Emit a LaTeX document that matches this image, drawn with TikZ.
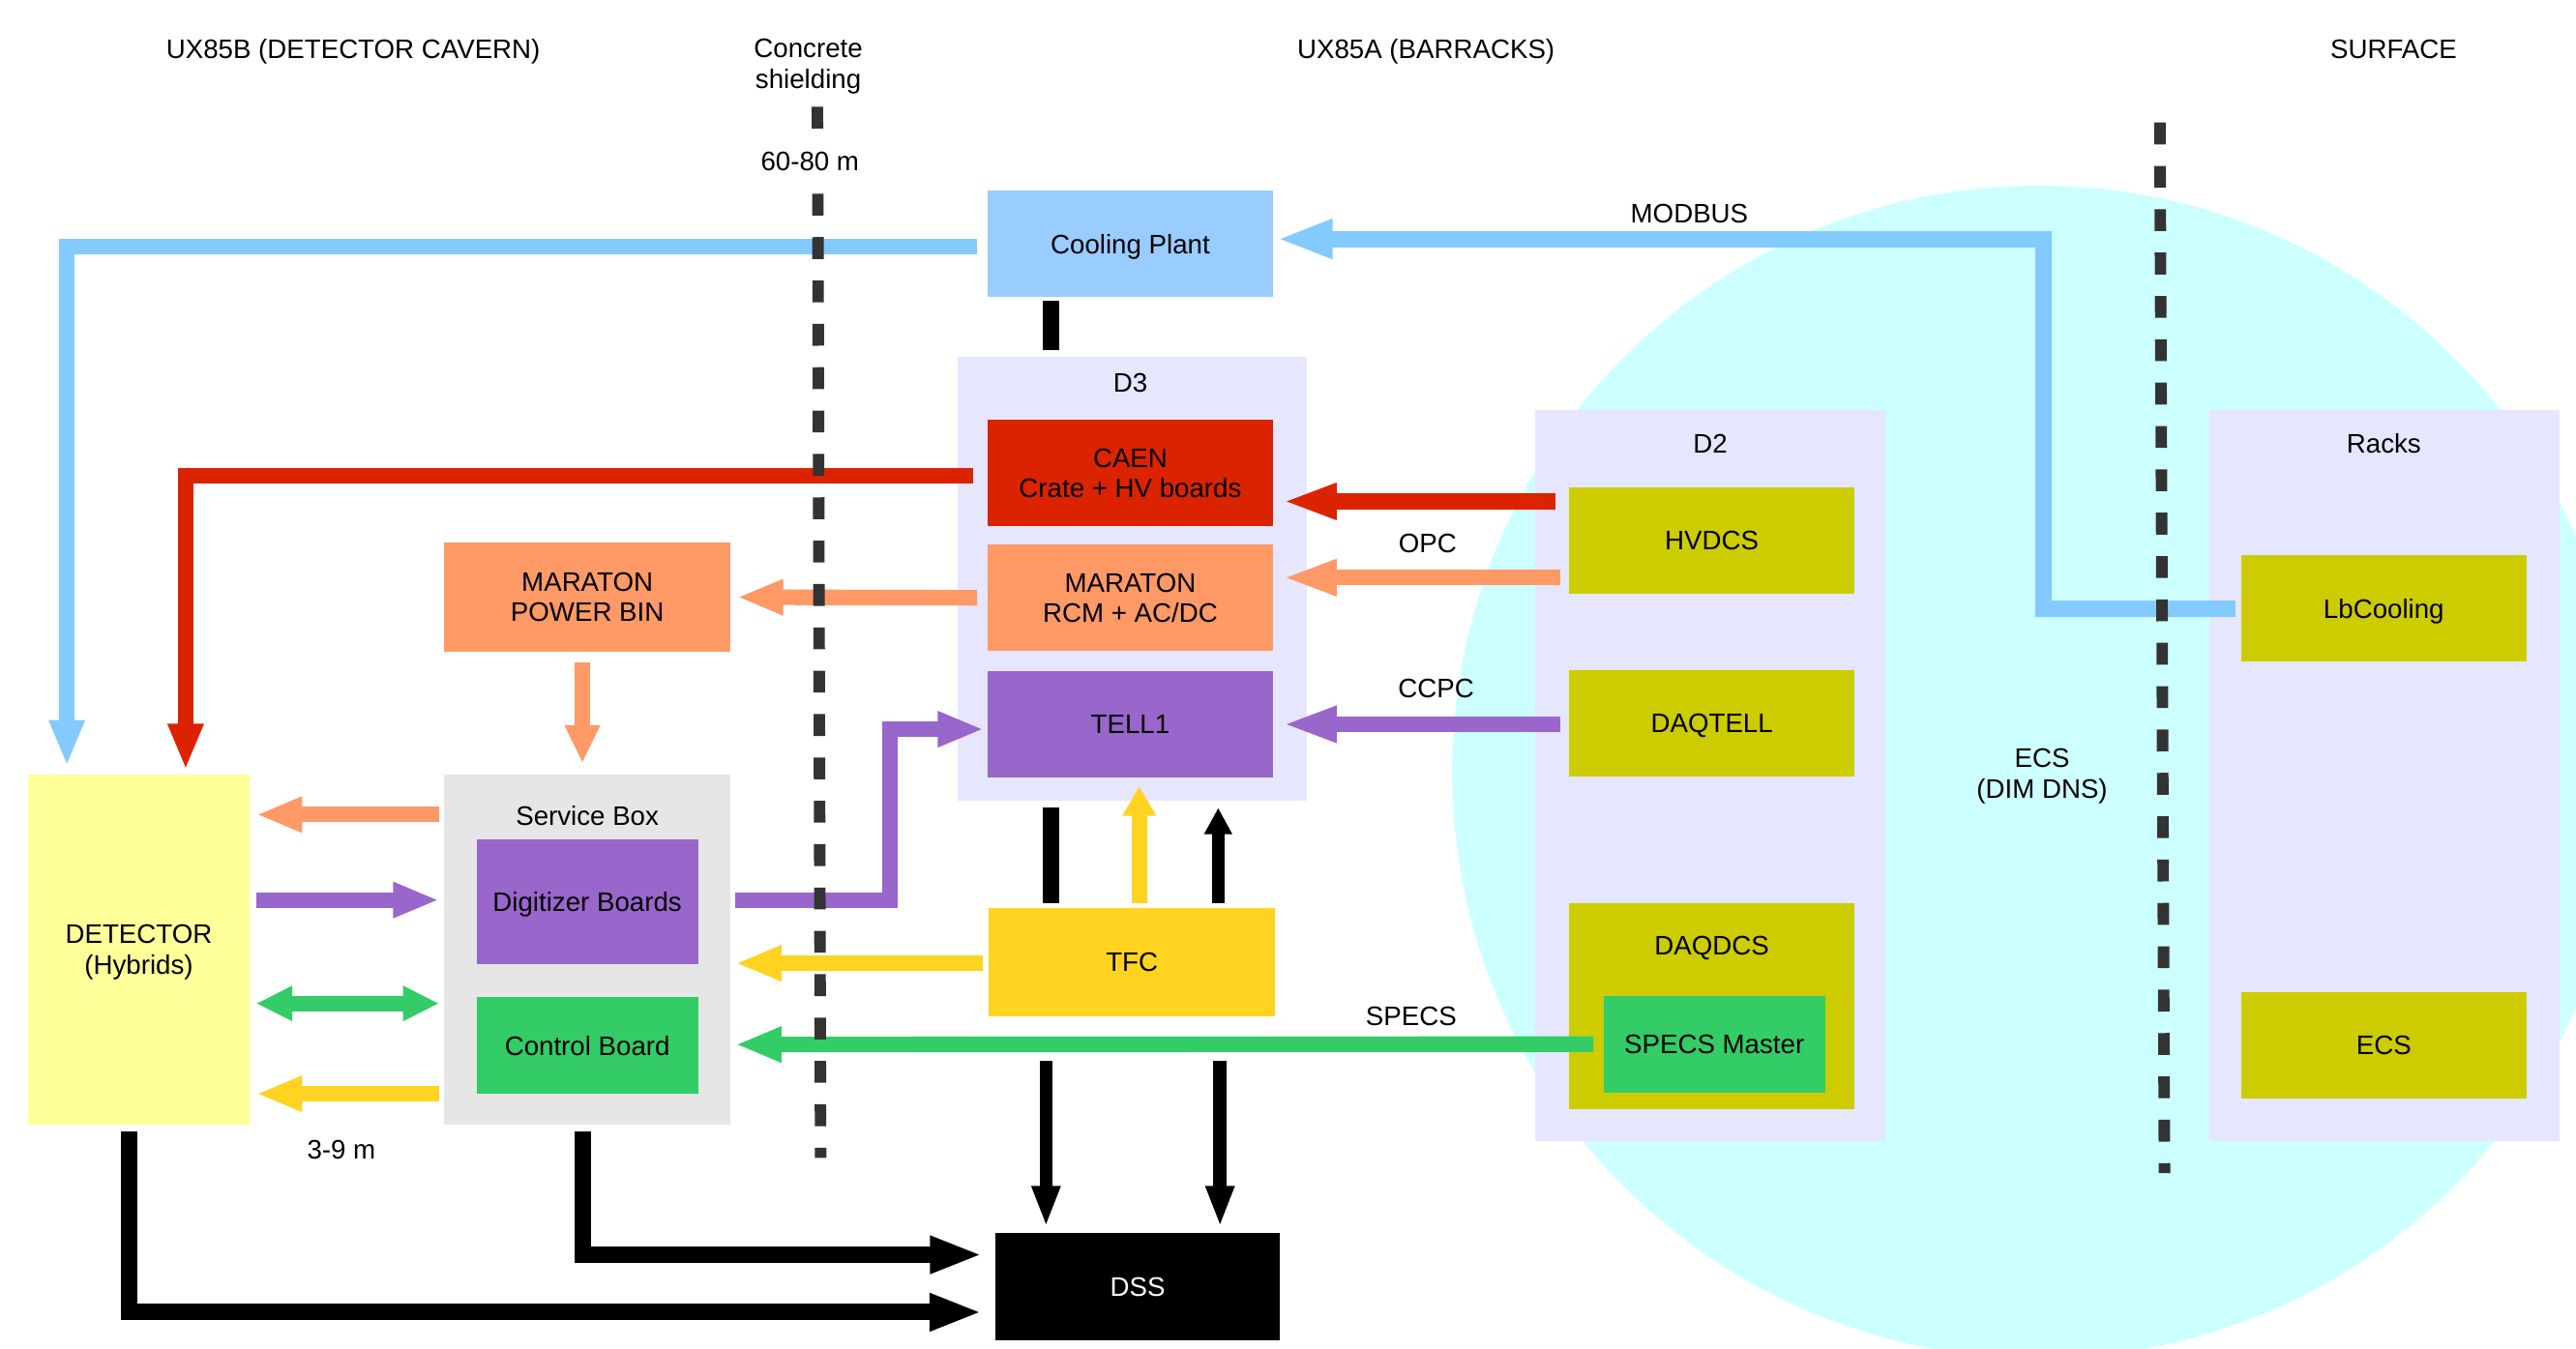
\documentclass[tikz,border=0pt]{standalone}
\usepackage{fontspec}
\setmainfont{Liberation Sans}
\usepackage{xcolor}
\usepackage{tikz}
\usetikzlibrary{arrows.meta}
\newcommand{\diagfont}{\fontsize{16.3pt}{18.5pt}\selectfont}
\definecolor{coolfill}{HTML}{99CCFF}
\definecolor{coolline}{HTML}{83CAFF}
\definecolor{hvred}{HTML}{DC2300}
\definecolor{lvorange}{HTML}{FF9966}
\definecolor{dataviolet}{HTML}{9966CC}
\definecolor{pcolive}{HTML}{CCCC00}
\definecolor{ctrlgreen}{HTML}{33CC66}
\definecolor{tfcyellow}{HTML}{FFD320}
\definecolor{detyellow}{HTML}{FFFF99}
\definecolor{roomfill}{HTML}{E6E6FF}
\definecolor{sbgray}{HTML}{E6E6E6}
\definecolor{ecscyan}{HTML}{CCFFFF}
\definecolor{wallgray}{HTML}{333333}
\tikzset{
  block/.style={rectangle, inner sep=0pt, align=center, text depth=0pt, minimum width=174pt, minimum height=65pt},
  subblock/.style={block, minimum width=135pt},
  room/.style={rectangle, inner sep=0pt, fill=roomfill},
  lbl/.style={inner sep=0pt, align=center, text depth=0pt},
  wall/.style={draw=wallgray, line width=7pt, dash pattern=on 13.3pt off 13.1pt},
  line/.style={line width=9.5pt, -{Triangle[length=28pt,width=20pt]}},
  longline/.style={line width=9.5pt, -{Triangle[length=33pt,width=20pt]}},
  pipe/.style={line width=10pt},
  tfcline/.style={line width=8pt, -{Triangle[length=25pt,width=16pt]}},
  dssline/.style={line width=10pt, -{Triangle[length=32pt,width=21pt]}}
}

\begin{document}
\begin{tikzpicture}[x=1pt, y=-1pt, every node/.style={font=\diagfont}]
  \useasboundingbox (0,0) rectangle (1568,821);
  \begin{scope}
    \clip (0,0) rectangle (1568,821);
    \fill[ecscyan] (1241,470) circle [radius=357];
  \end{scope}

  \node[room, minimum width=212.7pt, minimum height=270.2pt] (d3) at (689.3,352.5) {};
  \node[room, minimum width=213pt, minimum height=445pt] (d2) at (1041,472) {};
  \node[room, minimum width=213pt, minimum height=445pt] (racks) at (1451.5,472) {};
  \node[block, fill=sbgray, minimum height=213pt] (sbox) at (357.5,578) {};
  \node[lbl] (d3lbl) at (688,233) {D3};
  \node[lbl] (d2lbl) at (1041,270) {D2};
  \node[lbl] (rackslbl) at (1451,270) {Racks};
  \node[lbl] (sboxlbl) at (357.5,496.4) {Service Box};

  \node[block, fill=coolfill] (cool) at (688,148.5) {Cooling Plant};
  \node[block, fill=hvred] (caen) at (688,288) {CAEN\\Crate + HV boards};
  \node[block, fill=lvorange] (rcm) at (688,364) {MARATON\\RCM + AC/DC};
  \node[block, fill=dataviolet] (tell) at (688,441) {TELL1};
  \node[block, fill=tfcyellow, minimum height=66pt] (tfc) at (689,586) {TFC};
  \node[block, fill=black, text=white, minimum width=173pt] (dss) at (692.5,783.5) {DSS};
  \node[block, fill=lvorange, minimum height=66pt] (bin) at (357.5,363.6) {MARATON\\POWER BIN};
  \node[block, fill=detyellow, minimum width=134.5pt, minimum height=213pt] (det) at (84.5,578) {DETECTOR\\(Hybrids)};
  \node[subblock, fill=dataviolet, minimum height=75.5pt] (digi) at (357.5,549) {Digitizer Boards};
  \node[subblock, fill=ctrlgreen, minimum height=59pt] (ctrl) at (357.5,636.5) {Control Board};
  \node[block, fill=pcolive] (hvdcs) at (1042,329) {HVDCS};
  \node[block, fill=pcolive] (daqtell) at (1042,440.5) {DAQTELL};
  \node[block, fill=pcolive, minimum height=125.5pt] (daqdcs) at (1042,612.75) {};
  \node[lbl] (daqdcslbl) at (1042,576) {DAQDCS};
  \node[subblock, fill=ctrlgreen, minimum height=59pt] (specs) at (1043.5,635.75) {SPECS Master};
  \node[block, fill=pcolive] (lbc) at (1451,370.5) {LbCooling};
  \node[block, fill=pcolive] (ecs) at (1451,636.5) {ECS};

  \draw[line, coolline] ([xshift=-6pt,yshift=-1.5pt]cool.west) -| ([xshift=-43.8pt,yshift=4.9pt]det.north);
  \draw[line, hvred] ([xshift=-8.5pt,yshift=-1.8pt]caen.west) -| ([xshift=28.5pt,yshift=2.6pt]det.north);
  \draw[longline, hvred] ([xshift=-8pt,yshift=23.7pt]hvdcs.west) -- ([xshift=5.4pt,yshift=-17.3pt]caen.east);
  \draw[longline, lvorange] ([xshift=-4.8pt,yshift=-22.7pt]hvdcs.west) -- ([xshift=5.4pt,yshift=12.3pt]rcm.east);
  \draw[longline, dataviolet] ([xshift=-5pt,yshift=-0.5pt]daqtell.west) -- ([xshift=5.4pt]tell.east);
  \draw[line, lvorange] ([xshift=-6pt]rcm.west) -- ([xshift=4pt]bin.east);
  \draw[line, lvorange, -{Triangle[length=23pt,width=20pt]}] ([xshift=-3pt,yshift=-6.4pt]bin.south) -- ([xshift=-3pt,yshift=6.7pt]sbox.north);
  \draw[line, lvorange] ([xshift=-3pt,yshift=82pt]sbox.west) -- ([xshift=4pt,yshift=82pt]det.east);
  \draw[line, dataviolet] ([xshift=4pt,yshift=30pt]det.east) -- ([xshift=-3pt,yshift=30pt]sbox.west);
  \draw[line, ctrlgreen, {Triangle[length=22pt,width=20pt]}-{Triangle[length=22pt,width=20pt]}] ([xshift=4pt,yshift=-33pt]det.east) -- ([xshift=-3pt,yshift=-33pt]sbox.west);
  \draw[line, tfcyellow] ([xshift=-3pt,yshift=-88pt]sbox.west) -- ([xshift=4pt,yshift=-88pt]det.east);
  \draw[line, dataviolet] ([xshift=3pt,yshift=30pt]sbox.east) -- ++(94,0) |- ([xshift=-2pt,yshift=-3pt]tell.west);
  \draw[line, tfcyellow] ([xshift=-3.3pt,yshift=-0.5pt]tfc.west) -- ([xshift=3pt,yshift=-8.5pt]sbox.east);
  \draw[line, ctrlgreen] ([xshift=-6pt]specs.west) -- ([xshift=3pt,yshift=-58pt]sbox.east);
  \draw[line, coolline, line width=10pt, -{Triangle[length=34pt,width=22pt]}] ([xshift=-3pt]lbc.west) -- ++(-117,0) |- ([xshift=2pt,yshift=3pt]cool.east);

  \draw[pipe] ([xshift=-48pt,yshift=-2pt]cool.south) -- ([xshift=-49.3pt,yshift=4pt]d3.north);
  \draw[pipe] ([xshift=-49pt,yshift=3pt]tfc.north) -- ([xshift=-49.3pt,yshift=-4.1pt]d3.south);
  \draw[line, tfcyellow, -{Triangle[length=18pt,width=19.5pt]}] ([xshift=4.5pt,yshift=3pt]tfc.north) -- ([xshift=5.5pt,yshift=-5.1pt]tell.south);
  \draw[tfcline, line width=7.5pt, -{Triangle[length=16pt,width=16pt]}] ([xshift=52.5pt,yshift=3pt]tfc.north) -- ([xshift=52.2pt,yshift=-4.1pt]d3.south);
  \draw[tfcline] ([xshift=-52.3pt,yshift=-27pt]tfc.south) -- ([xshift=-55.8pt,yshift=3.75pt]dss.north);
  \draw[tfcline] ([xshift=53.6pt,yshift=-27pt]tfc.south) -- ([xshift=50.1pt,yshift=3.75pt]dss.north);
  \draw[dssline] ([xshift=-3pt,yshift=-4pt]sbox.south) |- ([xshift=-7.8pt,yshift=19.5pt]dss.west);
  \draw[dssline] ([xshift=-6pt,yshift=-4pt]det.south) |- ([xshift=-8pt,yshift=-15.5pt]dss.west);

  \draw[wall] (497.5,65) -- (497.6,78.5);
  \draw[wall] (497.8,118) -- (499.5,705);
  \draw[wall] (1314.7,74.6) -- (1317.5,714.3);

  \node[lbl] (cavern) at (215,30) {UX85B (DETECTOR CAVERN)};
  \node[lbl] (shield) at (492,38.7) {Concrete\\shielding};
  \node[lbl] (barracks) at (868,30) {UX85A (BARRACKS)};
  \node[lbl] (surface) at (1457,30) {SURFACE};
  \node[lbl] (longdist) at (493,98) {60-80 m};
  \node[lbl] (shortdist) at (207.8,700) {3-9 m};
  \node[lbl] (modbus) at (1028.3,130) {MODBUS};
  \node[lbl] (opc) at (869,330.7) {OPC};
  \node[lbl] (ccpc) at (874.2,419) {CCPC};
  \node[lbl] (specsbus) at (859,618.5) {SPECS};
  \node[lbl] (ecsdns) at (1243,471) {ECS\\(DIM DNS)};
\end{tikzpicture}
\end{document}
